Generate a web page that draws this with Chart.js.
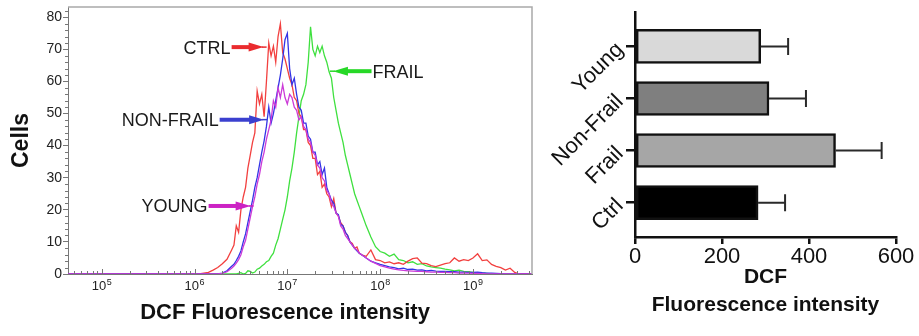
<!DOCTYPE html>
<html><head><meta charset="utf-8">
<script src="https://cdn.jsdelivr.net/npm/chart.js@4.4.1/dist/chart.umd.min.js"></script>
<style>
html,body{margin:0;padding:0;background:#fff;}
#wrap{position:relative;width:919px;height:336px;overflow:hidden;background:#fff;}
#c1{position:absolute;left:0;top:0;}
#c2{position:absolute;left:537px;top:0;}
</style></head><body>
<div id="wrap">
<canvas id="c1" width="540" height="336"></canvas>
<canvas id="c2" width="382" height="336"></canvas>
</div>
<script>
const FONT = "'Liberation Sans', Arial, Helvetica, sans-serif";

// ---------- Histogram (left panel) ----------
// bin positions as log10(DCF fluorescence intensity)
const binLog10 = [4.64, 6.05, 6.10, 6.15, 6.20, 6.25, 6.30, 6.35,
  6.400, 6.425, 6.450, 6.475, 6.500, 6.525, 6.550, 6.575, 6.600, 6.625,
  6.650, 6.675, 6.700, 6.725, 6.750, 6.775, 6.800, 6.825, 6.850, 6.875,
  6.900, 6.925, 6.950, 6.975, 7.000, 7.025, 7.050, 7.075, 7.100, 7.125,
  7.150, 7.175, 7.200, 7.225, 7.250, 7.275, 7.300, 7.325, 7.350, 7.375,
  7.400, 7.425, 7.450, 7.475, 7.500, 7.525, 7.550, 7.575, 7.600, 7.625,
  7.650, 7.675, 7.700, 7.725, 7.750, 7.775, 7.800,
  7.85, 7.90, 7.95, 8.00, 8.05, 8.10, 8.15, 8.20, 8.25, 8.30,
  8.35, 8.40, 8.45, 8.50, 8.55, 8.60, 8.65, 8.70, 8.75, 8.80,
  8.85, 8.90, 8.95, 9.00, 9.05, 9.10, 9.15, 9.20, 9.25, 9.30,
  9.35, 9.40, 9.45, 9.50, 9.55, 9.60, 9.64];

const ctrlCells = [0, 0, 0.3, 0.5, 1.2, 2.0, 3.2, 4.6,
  7.5, 9, 15, 13, 20, 24, 27, 33, 37, 41,
  44, 57, 53, 56, 49, 60, 72, 68, 71, 66,
  74, 78, 69, 67, 64, 61, 59, 55, 54, 50,
  49, 45, 45, 41, 40, 36, 36, 31, 32, 27,
  28, 25, 24, 21, 23.5, 19, 18, 16, 15, 13,
  12, 10, 9.5, 8, 8.4, 6.5, 6,
  5.5, 7.5, 4.5, 4.2, 3.5, 3.8, 3.2, 3.5, 3.0, 4.0,
  4.8, 5.0, 3.4, 3.2, 2.6, 2.3, 2.8, 3.2, 3.5, 5.0,
  4.0, 4.5, 4.2, 5.0, 6.3, 4.2, 4.4, 3.0, 2.4, 2.0,
  1.2, 1.8, 0.5, 0, 0, 0, 0];

const frailCells = [0, 0, 0, 0, 0, 0, 0, 0,
  0, 0, 0, 0.2, 0.4, 0, 0.2, 1, 0.8, 0.3,
  0.6, 1.5, 1.8, 2.5, 3.0, 3.8, 4.2, 5.5, 6.5, 9,
  11, 14, 17, 20, 24, 29, 33, 38, 44, 49,
  54, 56, 59, 66, 77, 70, 68, 71, 69, 71,
  68, 66, 63, 61, 55, 51, 47, 44, 41, 37,
  34, 31, 28, 25, 23, 21, 19,
  15, 11.5, 8.5, 7, 6.5, 5.5, 6.2, 4.5, 4.2, 3.5,
  3.8, 3.0, 3.2, 2.5, 2.2, 2.0, 1.8, 1.5, 1.3, 1.0,
  1.2, 0.8, 0.7, 0.5, 0.4, 0.3, 0.2, 0, 0, 0,
  0, 0, 0, 0, 0, 0, 0];

const nonFrailCells = [0, 0, 0, 0, 0, 0, 0.3, 1.0,
  2.4, 3, 4.2, 5.5, 7.2, 10, 12.5, 16, 19.5, 23,
  27, 30, 34, 38, 41.5, 46, 52, 47, 50, 54,
  58, 62, 67, 73, 75, 64, 59, 61, 56, 52,
  51, 47, 47, 43, 42, 38, 38, 34, 35, 31,
  33, 27, 25, 23, 22, 19, 18.5, 15.5, 15, 13,
  12, 10, 9, 8, 7.2, 6.5, 6,
  5, 4, 3.5, 3, 2.6, 2.2, 2.0, 1.6, 1.8, 1.4,
  1.5, 1.2, 1.3, 1.0, 1.1, 0.9, 0.8, 0.8, 0.7, 0.7,
  0.6, 0.6, 0.5, 0.5, 0.6, 0.4, 0.3, 0.3, 0.2, 0.1,
  0, 0, 0, 0, 0, 0, 0];

const youngCells = [0, 0, 0, 0, 0, 0, 0.2, 0.7,
  1.8, 2.5, 3.4, 4.5, 6, 8.5, 10.5, 14, 17.5, 21,
  24, 28, 31, 35, 38, 42, 45, 48, 54, 52,
  58, 55, 59, 55, 53, 56, 55, 52, 51, 48,
  49, 46, 45, 42, 41, 38, 37, 34, 33, 30,
  29, 26, 25, 22, 21, 19, 18, 15, 14, 12,
  11, 10, 9, 8, 7.5, 6.5, 6,
  5, 4, 3.3, 2.6, 2.2, 1.8, 1.5, 1.3, 1.1, 1.0,
  0.9, 0.8, 0.8, 0.7, 0.6, 0.6, 0.5, 0.5, 0.4, 0.4,
  0.3, 0.3, 0.3, 0.2, 0.2, 0.1, 0, 0, 0, 0,
  0, 0, 0, 0, 0, 0, 0];

const xTickExponents = [5, 6, 7, 8, 9];
const xTickBase = '10';
const xTickExpLabels = ['5', '6', '7', '8', '9'];
const cellTicks = [0, 10, 20, 30, 40, 50, 60, 70, 80];

// ---------- Bar chart (right panel) ----------
const groups = ['Young', 'Non-Frail', 'Frail', 'Ctrl'];
const dcfMean = [289, 308, 461, 283];
const dcfError = [63, 85, 106, 62];
const dcfTicks = [0, 200, 400, 600];

// ---------- styles / layout (not data) ----------
const histAxis = { minLog: 4.637, maxLog: 9.636, yMax: 83.2 };
const annotations = [
  { text: 'CTRL', color: '#ea2b2e', side: 'left', at: [6.389, 70.7], tip: 6.777 },
  { text: 'NON-FRAIL', color: '#3b40cf', side: 'left', at: [6.26, 48.1], tip: 6.782 },
  { text: 'YOUNG', color: '#cc22c4', side: 'left', at: [6.141, 21.2], tip: 6.637 },
  { text: 'FRAIL', color: '#27d827', side: 'right', at: [7.918, 63.2], tip: 7.459 }
];
const barFills = ['#d9d9d9', '#7f7f7f', '#a6a6a6', '#000000'];

function series(arr) {
  return binLog10.map((e, i) => ({ x: Math.pow(10, e), y: arr[i] }));
}
function lineDs(label, arr, color) {
  return { label, data: series(arr), borderColor: color, borderWidth: 1.3,
    pointRadius: 0, tension: 0, fill: false };
}

function drawArrow(ctx, x0, x1, y, color) {
  const dir = Math.sign(x1 - x0);
  ctx.strokeStyle = color; ctx.fillStyle = color;
  ctx.lineWidth = 4; ctx.lineCap = 'butt';
  ctx.beginPath(); ctx.moveTo(x0, y); ctx.lineTo(x1 - dir * 14, y); ctx.stroke();
  ctx.beginPath();
  ctx.moveTo(x1 - dir * 18, y - 4.5);
  ctx.lineTo(x1 - dir * 3, y);
  ctx.lineTo(x1 - dir * 18, y + 4.5);
  ctx.closePath(); ctx.fill();
  ctx.lineWidth = 1.5;
  ctx.beginPath(); ctx.moveTo(x1 - dir * 5, y); ctx.lineTo(x1, y); ctx.stroke();
}

const histDecor = {
  id: 'histDecor',
  afterDraw(chart) {
    const { ctx, chartArea: a, scales: { x, y } } = chart;
    ctx.save();
    // frame
    ctx.strokeStyle = '#a9a9a9'; ctx.lineWidth = 1.5;
    ctx.beginPath(); ctx.moveTo(a.left, a.top); ctx.lineTo(a.right, a.top);
    ctx.lineTo(a.right, a.bottom); ctx.stroke();
    // minor y ticks
    ctx.strokeStyle = '#777'; ctx.lineWidth = 1;
    for (let v = 2; v <= 82; v += 2) {
      if (v % 10 === 0) continue;
      const py = Math.round(y.getPixelForValue(v)) + 0.5;
      ctx.beginPath(); ctx.moveTo(a.left - 3, py); ctx.lineTo(a.left, py); ctx.stroke();
    }
    // x ticks (inside)
    for (let k = 4; k <= 9; k++) {
      for (let m = 1; m <= 9; m++) {
        const v = m * Math.pow(10, k);
        if (v < x.min || v > x.max) continue;
        const px = Math.round(x.getPixelForValue(v)) + 0.5;
        const len = m === 1 ? 5 : 3;
        ctx.beginPath(); ctx.moveTo(px, a.bottom); ctx.lineTo(px, a.bottom - len); ctx.stroke();
      }
    }
    // x tick labels with superscript exponents
    ctx.fillStyle = '#222'; ctx.textBaseline = 'alphabetic'; ctx.textAlign = 'left';
    xTickExponents.forEach((e, i) => {
      const px = x.getPixelForValue(Math.pow(10, e));
      ctx.font = '13px ' + FONT;
      const wb = ctx.measureText(xTickBase).width;
      ctx.font = '9px ' + FONT;
      const we = ctx.measureText(xTickExpLabels[i]).width;
      const x0 = px - (wb + we + 0.5) / 2;
      ctx.font = '13px ' + FONT;
      ctx.fillText(xTickBase, x0, 290);
      ctx.font = '9px ' + FONT;
      ctx.fillText(xTickExpLabels[i], x0 + wb + 0.5, 285);
    });
    // annotations
    ctx.font = '18px ' + FONT; ctx.textBaseline = 'middle';
    annotations.forEach(an => {
      const px = x.getPixelForValue(Math.pow(10, an.at[0]));
      const py = y.getPixelForValue(an.at[1]);
      const tip = x.getPixelForValue(Math.pow(10, an.tip));
      ctx.fillStyle = '#1a1a1a';
      if (an.side === 'left') {
        ctx.textAlign = 'right'; ctx.fillText(an.text, px, py + 1.5);
        drawArrow(ctx, px + 1, tip, py, an.color);
      } else {
        ctx.textAlign = 'left'; ctx.fillText(an.text, px, py + 1.5);
        drawArrow(ctx, px - 1, tip, py, an.color);
      }
    });
    // x title
    ctx.fillStyle = '#111'; ctx.font = 'bold 22px ' + FONT;
    ctx.textAlign = 'center'; ctx.textBaseline = 'middle';
    ctx.fillText('DCF Fluorescence intensity', 285, 313);
    ctx.restore();
  }
};

new Chart(document.getElementById('c1'), {
  type: 'line',
  data: {
    datasets: [
      lineDs('YOUNG', youngCells, '#cc3ad8'),
      lineDs('NON-FRAIL', nonFrailCells, '#3434e6'),
      lineDs('CTRL', ctrlCells, '#f2403f'),
      lineDs('FRAIL', frailCells, '#3fe03f')
    ]
  },
  options: {
    responsive: false, animation: false, events: [],
    layout: { padding: { left: 0, right: 8, top: 7, bottom: 0 } },
    plugins: { legend: { display: false }, tooltip: { enabled: false } },
    scales: {
      x: {
        type: 'logarithmic',
        min: Math.pow(10, histAxis.minLog), max: Math.pow(10, histAxis.maxLog),
        afterBuildTicks: s => { s.ticks = xTickExponents.map(e => ({ value: Math.pow(10, e) })); },
        ticks: { display: false, autoSkip: false },
        grid: { drawOnChartArea: false, drawTicks: false },
        border: { display: true, color: '#777', width: 1 },
        afterFit: s => { s.height = 62; s.paddingLeft = 0; s.paddingRight = 0; }
      },
      y: {
        min: 0, max: histAxis.yMax,
        afterBuildTicks: s => { s.ticks = cellTicks.map(v => ({ value: v })); },
        ticks: { font: { family: FONT, size: 14 }, color: '#222', padding: 1 },
        grid: { drawOnChartArea: false, tickLength: 5, tickColor: '#777' },
        border: { color: '#777', width: 1 },
        title: { display: true, text: 'Cells', color: '#111',
          font: { family: FONT, size: 23, weight: 'bold' }, padding: { top: 8, bottom: 0 } },
        afterFit: s => { s.width = 68; s.paddingTop = 0; s.paddingBottom = 0; }
      }
    }
  },
  plugins: [histDecor]
});

// ---------- Bar chart ----------
const errorBars = {
  id: 'errorBars',
  afterDatasetsDraw(chart) {
    const { ctx, scales: { x, y } } = chart;
    ctx.save();
    ctx.strokeStyle = '#2a2a2a'; ctx.lineWidth = 2;
    dcfMean.forEach((m, i) => {
      const x0 = x.getPixelForValue(m), x1 = x.getPixelForValue(m + dcfError[i]);
      const py = y.getPixelForValue(i);
      ctx.beginPath();
      ctx.moveTo(x0, py); ctx.lineTo(x1, py);
      ctx.moveTo(x1, py - 8.5); ctx.lineTo(x1, py + 8.5);
      ctx.stroke();
    });
    ctx.restore();
  }
};

new Chart(document.getElementById('c2'), {
  type: 'bar',
  data: {
    datasets: [{
      data: groups.map((g, i) => ({ x: dcfMean[i], y: i })),
      backgroundColor: barFills, borderColor: '#111', borderWidth: 2.5,
      borderSkipped: false, barThickness: 34
    }]
  },
  options: {
    indexAxis: 'y', responsive: false, animation: false, events: [],
    layout: { padding: { left: 0, right: 23, top: 12, bottom: 0 } },
    plugins: { legend: { display: false }, tooltip: { enabled: false } },
    scales: {
      x: {
        type: 'linear', min: 0, max: 600,
        afterBuildTicks: s => { s.ticks = dcfTicks.map(v => ({ value: v })); },
        ticks: { font: { family: FONT, size: 22 }, color: '#111', padding: 0, maxRotation: 0 },
        grid: { drawOnChartArea: false, tickLength: 7, tickColor: '#111', lineWidth: 2.5 },
        border: { color: '#111', width: 2.5 },
        title: { display: true, text: ['DCF', 'Fluorescence intensity'], color: '#111',
          font: { family: FONT, size: 21, weight: 'bold', lineHeight: 1.33 },
          padding: { top: 0, bottom: 17 } },
        afterFit: s => { s.height = 99; s.paddingLeft = 0; s.paddingRight = 0; }
      },
      y: {
        type: 'linear', reverse: true, min: -0.66, max: 3.66, offset: false,
        afterBuildTicks: s => { s.ticks = groups.map((g, i) => ({ value: i })); },
        ticks: { callback: (v, i) => groups[i], minRotation: 45, maxRotation: 45,
          font: { family: FONT, size: 22 }, color: '#111', padding: 6 },
        grid: { drawOnChartArea: false, offset: false, tickLength: 9, tickColor: '#111', lineWidth: 2.5 },
        border: { color: '#111', width: 2.5 },
        afterFit: s => { s.width = 98; s.paddingTop = 0; s.paddingBottom = 0; }
      }
    }
  },
  plugins: [errorBars]
});
</script>
</body></html>
